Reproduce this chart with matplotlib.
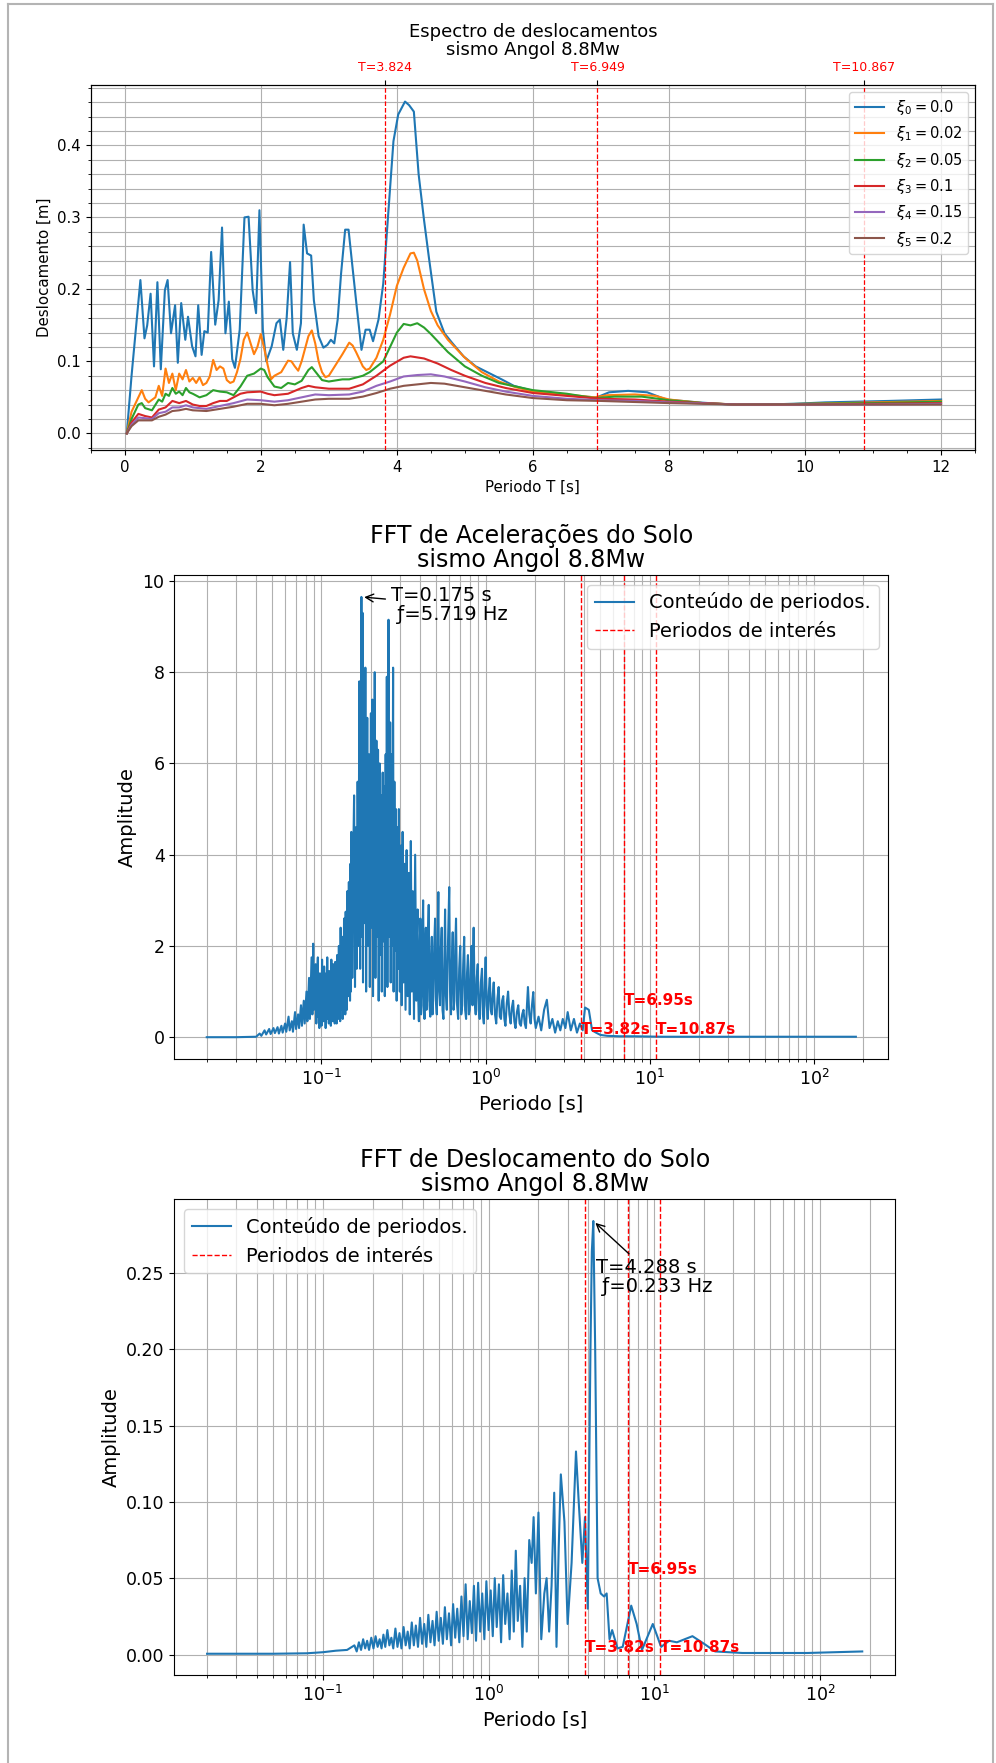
import matplotlib
matplotlib.use('Agg')
import matplotlib.pyplot as plt
from matplotlib.ticker import AutoMinorLocator
from matplotlib.lines import Line2D


"""1. Dados lidos do grafico"""

periodos_interes = [3.824, 6.949, 10.867]
amortecimentos = [0.0, 0.02, 0.05, 0.1, 0.15, 0.2]

# espectro de deslocamentos (T [s], Sd [m]) para cada amortecimento
xi0_pts = [(0.03, 0.0), (0.1, 0.08), (0.23, 0.213), (0.29, 0.132), (0.33, 0.15), (0.38, 0.194),
           (0.43, 0.093), (0.48, 0.21), (0.53, 0.089), (0.59, 0.199), (0.63, 0.213), (0.68, 0.139),
           (0.74, 0.178), (0.78, 0.098), (0.83, 0.181), (0.89, 0.13), (0.93, 0.162), (0.99, 0.121),
           (1.04, 0.107), (1.08, 0.178), (1.13, 0.109), (1.17, 0.142), (1.22, 0.14), (1.27, 0.252),
           (1.33, 0.151), (1.38, 0.185), (1.43, 0.286), (1.48, 0.139), (1.53, 0.183), (1.58, 0.103),
           (1.62, 0.091), (1.69, 0.144), (1.76, 0.30), (1.82, 0.301), (1.88, 0.199), (1.93, 0.167),
           (1.98, 0.31), (2.03, 0.144), (2.08, 0.1), (2.16, 0.121), (2.23, 0.153), (2.28, 0.158),
           (2.33, 0.116), (2.38, 0.16), (2.43, 0.238), (2.47, 0.139), (2.53, 0.116), (2.59, 0.153),
           (2.63, 0.29), (2.68, 0.25), (2.74, 0.247), (2.78, 0.185), (2.85, 0.135), (2.92, 0.119),
           (2.98, 0.123), (3.03, 0.13), (3.08, 0.125), (3.13, 0.158), (3.18, 0.222), (3.24, 0.283),
           (3.29, 0.283), (3.34, 0.238), (3.41, 0.176), (3.48, 0.116), (3.54, 0.144), (3.6, 0.144),
           (3.65, 0.128), (3.73, 0.158), (3.8, 0.208), (3.88, 0.314), (3.95, 0.406), (4.02, 0.443),
           (4.12, 0.461), (4.18, 0.456), (4.25, 0.447), (4.32, 0.36), (4.4, 0.296), (4.47, 0.245),
           (4.58, 0.169), (4.7, 0.139), (4.81, 0.126), (4.98, 0.107), (5.16, 0.093), (5.35, 0.084),
           (5.54, 0.075), (5.72, 0.066), (6.0, 0.059), (6.38, 0.054), (6.75, 0.051), (6.94, 0.05),
           (7.12, 0.057), (7.4, 0.059), (7.68, 0.057), (7.96, 0.047), (8.43, 0.043), (8.9, 0.04),
           (9.37, 0.04), (9.83, 0.041), (10.3, 0.043), (11.23, 0.045), (12.0, 0.047)]

xi1_pts = [(0.03, 0.0), (0.1, 0.03), (0.2, 0.05), (0.25, 0.06), (0.3, 0.048), (0.35, 0.043),
           (0.45, 0.05), (0.5, 0.066), (0.55, 0.052), (0.6, 0.09), (0.65, 0.07), (0.7, 0.083),
           (0.75, 0.06), (0.8, 0.083), (0.85, 0.075), (0.9, 0.088), (0.95, 0.072), (1.0, 0.077),
           (1.05, 0.07), (1.1, 0.078), (1.15, 0.067), (1.2, 0.07), (1.25, 0.079), (1.3, 0.102),
           (1.35, 0.088), (1.4, 0.093), (1.45, 0.09), (1.5, 0.074), (1.55, 0.07), (1.6, 0.072),
           (1.65, 0.085), (1.7, 0.103), (1.75, 0.13), (1.8, 0.14), (1.85, 0.125), (1.9, 0.11),
           (1.95, 0.12), (2.0, 0.138), (2.05, 0.118), (2.1, 0.095), (2.15, 0.075), (2.2, 0.08),
           (2.3, 0.085), (2.4, 0.101), (2.45, 0.1), (2.5, 0.093), (2.55, 0.087), (2.6, 0.1),
           (2.7, 0.135), (2.75, 0.143), (2.8, 0.125), (2.85, 0.1), (2.9, 0.085), (2.95, 0.078),
           (3.0, 0.08), (3.1, 0.095), (3.2, 0.11), (3.3, 0.126), (3.35, 0.122), (3.4, 0.113),
           (3.5, 0.093), (3.55, 0.088), (3.6, 0.09), (3.7, 0.105), (3.8, 0.13), (3.9, 0.165),
           (4.0, 0.205), (4.1, 0.23), (4.2, 0.25), (4.25, 0.251), (4.3, 0.24), (4.4, 0.2),
           (4.5, 0.17), (4.6, 0.15), (4.75, 0.13), (5.0, 0.105), (5.25, 0.085), (5.5, 0.072),
           (5.75, 0.064), (6.0, 0.058), (6.5, 0.054), (6.9, 0.05), (7.1, 0.053), (7.5, 0.054),
           (7.8, 0.052), (8.0, 0.047), (8.5, 0.042), (9.0, 0.04), (9.5, 0.04), (10.0, 0.041),
           (11.0, 0.043), (12.0, 0.045)]

xi2_pts = [(0.03, 0.0), (0.1, 0.02), (0.2, 0.04), (0.25, 0.042), (0.3, 0.035), (0.4, 0.032),
           (0.5, 0.047), (0.55, 0.044), (0.6, 0.055), (0.65, 0.052), (0.7, 0.063), (0.75, 0.055),
           (0.8, 0.058), (0.85, 0.053), (0.9, 0.063), (0.95, 0.057), (1.0, 0.055), (1.1, 0.05),
           (1.2, 0.053), (1.3, 0.06), (1.4, 0.058), (1.5, 0.057), (1.6, 0.053), (1.7, 0.065),
           (1.8, 0.08), (1.9, 0.083), (2.0, 0.09), (2.05, 0.088), (2.1, 0.078), (2.2, 0.065),
           (2.3, 0.063), (2.4, 0.07), (2.5, 0.068), (2.6, 0.073), (2.7, 0.088), (2.75, 0.092),
           (2.8, 0.086), (2.9, 0.074), (3.0, 0.072), (3.2, 0.075), (3.3, 0.075), (3.5, 0.08),
           (3.6, 0.085), (3.8, 0.1), (3.9, 0.12), (4.0, 0.14), (4.1, 0.152), (4.2, 0.15),
           (4.3, 0.153), (4.4, 0.147), (4.5, 0.138), (4.6, 0.128), (4.75, 0.113), (5.0, 0.093),
           (5.25, 0.08), (5.5, 0.07), (6.0, 0.06), (6.5, 0.055), (6.9, 0.049), (7.2, 0.051),
           (7.6, 0.051), (8.0, 0.046), (8.5, 0.042), (9.0, 0.04), (10.0, 0.041), (11.0, 0.042),
           (12.0, 0.044)]

xi3_pts = [(0.03, 0.0), (0.1, 0.015), (0.2, 0.027), (0.3, 0.024), (0.4, 0.022), (0.5, 0.033),
           (0.6, 0.036), (0.7, 0.045), (0.8, 0.042), (0.9, 0.045), (1.0, 0.04), (1.1, 0.038),
           (1.2, 0.038), (1.3, 0.042), (1.4, 0.045), (1.5, 0.045), (1.6, 0.05), (1.7, 0.055),
           (1.8, 0.057), (2.0, 0.058), (2.1, 0.055), (2.2, 0.053), (2.4, 0.055), (2.6, 0.063),
           (2.7, 0.066), (2.8, 0.064), (3.0, 0.062), (3.3, 0.062), (3.5, 0.068), (3.7, 0.08),
           (3.9, 0.094), (4.1, 0.105), (4.2, 0.107), (4.4, 0.104), (4.6, 0.097), (4.8, 0.088),
           (5.0, 0.08), (5.3, 0.07), (5.6, 0.063), (6.0, 0.056), (6.5, 0.052), (7.0, 0.048),
           (7.5, 0.047), (8.0, 0.044), (8.5, 0.042), (9.0, 0.04), (10.0, 0.04), (11.0, 0.041),
           (12.0, 0.042)]

xi4_pts = [(0.03, 0.0), (0.1, 0.012), (0.2, 0.022), (0.3, 0.021), (0.4, 0.02), (0.5, 0.028),
           (0.6, 0.03), (0.7, 0.036), (0.8, 0.036), (0.9, 0.039), (1.0, 0.036), (1.2, 0.034),
           (1.4, 0.038), (1.6, 0.042), (1.8, 0.047), (2.0, 0.046), (2.2, 0.044), (2.4, 0.046),
           (2.6, 0.05), (2.8, 0.054), (3.0, 0.053), (3.3, 0.054), (3.5, 0.058), (3.7, 0.066),
           (3.9, 0.072), (4.1, 0.079), (4.3, 0.081), (4.5, 0.082), (4.7, 0.079), (5.0, 0.072),
           (5.3, 0.064), (5.6, 0.058), (6.0, 0.052), (6.5, 0.048), (7.0, 0.046), (7.5, 0.045),
           (8.0, 0.043), (9.0, 0.04), (10.0, 0.04), (11.0, 0.04), (12.0, 0.041)]

xi5_pts = [(0.03, 0.0), (0.1, 0.01), (0.2, 0.018), (0.3, 0.018), (0.4, 0.018), (0.5, 0.023),
           (0.6, 0.026), (0.7, 0.031), (0.8, 0.032), (0.9, 0.034), (1.0, 0.032), (1.2, 0.031),
           (1.4, 0.034), (1.6, 0.037), (1.8, 0.041), (2.0, 0.041), (2.2, 0.039), (2.4, 0.041),
           (2.6, 0.044), (2.8, 0.047), (3.0, 0.048), (3.3, 0.048), (3.5, 0.051), (3.7, 0.056),
           (3.9, 0.062), (4.1, 0.066), (4.3, 0.068), (4.5, 0.07), (4.7, 0.069), (5.0, 0.064),
           (5.3, 0.059), (5.6, 0.054), (6.0, 0.049), (6.5, 0.046), (7.0, 0.045), (8.0, 0.042),
           (9.0, 0.04), (10.0, 0.04), (12.0, 0.04)]

espectro = [xi0_pts, xi1_pts, xi2_pts, xi3_pts, xi4_pts, xi5_pts]

# FFT da aceleracao do solo (T [s], amplitude)
fft_acel = [(0.020, 0.00), (0.030, 0.00), (0.040, 0.01), (0.042, 0.08), (0.043, 0.03), (0.045, 0.15),
            (0.046, 0.06), (0.048, 0.18), (0.049, 0.07), (0.051, 0.20), (0.052, 0.09), (0.054, 0.22),
            (0.055, 0.08), (0.057, 0.25), (0.058, 0.10), (0.060, 0.30), (0.061, 0.12), (0.063, 0.45),
            (0.064, 0.15), (0.066, 0.35), (0.067, 0.12), (0.069, 0.55), (0.070, 0.18), (0.072, 0.50),
            (0.073, 0.20), (0.075, 0.70), (0.076, 0.25), (0.078, 0.80), (0.079, 0.30), (0.081, 1.00),
            (0.082, 0.35), (0.084, 1.30), (0.085, 0.40), (0.087, 1.75), (0.088, 0.50), (0.089, 2.05),
            (0.090, 0.60), (0.092, 1.60),
            (0.0930, 0.30), (0.0940, 1.20), (0.0950, 1.75), (0.0955, 0.45), (0.0962, 1.10), (0.0970, 0.20),
            (0.0978, 1.40), (0.0985, 0.60), (0.0992, 1.30), (0.1000, 0.25), (0.1008, 1.70), (0.1015, 0.50),
            (0.1022, 1.20), (0.1030, 0.35), (0.1038, 1.55), (0.1045, 0.70), (0.1052, 1.00), (0.1060, 0.20),
            (0.1068, 1.40), (0.1076, 0.55), (0.1084, 1.75), (0.1092, 0.40), (0.1100, 1.25), (0.1108, 0.30),
            (0.1116, 1.45), (0.1124, 0.65), (0.1132, 1.10), (0.1140, 0.25), (0.1148, 1.70), (0.1156, 0.50),
            (0.1164, 1.30), (0.1172, 0.35), (0.1180, 1.60), (0.1188, 0.60), (0.1196, 1.20), (0.1204, 0.30),
            (0.1212, 1.65), (0.1220, 0.45), (0.1228, 1.35), (0.1236, 0.30), (0.1244, 1.80), (0.1252, 0.70),
            (0.1260, 1.40), (0.1268, 0.40), (0.1276, 2.00), (0.1284, 0.55), (0.1292, 1.50), (0.1300, 0.35),
            (0.1308, 2.40), (0.1316, 0.80), (0.1324, 1.70), (0.1332, 0.60), (0.1340, 2.20), (0.1348, 0.40),
            (0.1356, 1.90), (0.1364, 0.90), (0.1372, 2.60), (0.1380, 0.70), (0.1388, 2.00), (0.1396, 0.50),
            (0.1404, 2.75), (0.1412, 1.00), (0.1420, 2.30), (0.1428, 0.60), (0.1436, 3.20), (0.1444, 1.20),
            (0.1452, 2.50), (0.1460, 0.90), (0.1468, 3.40), (0.1476, 1.10), (0.1484, 2.90), (0.1492, 0.80),
            (0.1500, 3.80), (0.1510, 1.00),
            (0.152, 4.50), (0.154, 1.30), (0.156, 3.90),
            (0.158, 5.30), (0.160, 1.10), (0.162, 4.60), (0.164, 1.50), (0.166, 5.60), (0.168, 2.00),
            (0.170, 7.80), (0.172, 1.50), (0.175, 9.65), (0.176, 2.20), (0.178, 9.30), (0.179, 1.20),
            (0.181, 7.00), (0.183, 2.50), (0.185, 8.10), (0.187, 1.00), (0.190, 7.00), (0.192, 2.00),
            (0.195, 6.20), (0.197, 1.10), (0.200, 7.10), (0.202, 2.40), (0.204, 7.40), (0.206, 0.90),
            (0.208, 6.60), (0.209, 2.00), (0.211, 8.00), (0.213, 1.30), (0.216, 6.50), (0.218, 2.20),
            (0.221, 6.30), (0.223, 0.80), (0.226, 6.00), (0.228, 1.80), (0.231, 5.30), (0.233, 1.00),
            (0.236, 5.80), (0.238, 2.10), (0.241, 5.50), (0.243, 0.90), (0.246, 6.20), (0.248, 1.70),
            (0.250, 7.90), (0.252, 1.10), (0.256, 9.15), (0.258, 2.20), (0.262, 6.90), (0.264, 1.20),
            (0.268, 6.20), (0.270, 2.00), (0.273, 8.10), (0.275, 1.00), (0.278, 5.60), (0.281, 1.90),
            (0.284, 5.00), (0.287, 0.80), (0.290, 4.60), (0.293, 1.50), (0.296, 5.00), (0.300, 1.00),
            (0.304, 4.20), (0.308, 0.70), (0.312, 4.50), (0.316, 1.20), (0.320, 3.80), (0.325, 0.60),
            (0.330, 4.10), (0.335, 0.90), (0.340, 3.60), (0.345, 0.50), (0.350, 4.30), (0.355, 1.00),
            (0.360, 3.20), (0.366, 0.40), (0.372, 4.00), (0.378, 0.80),
            (0.381, 2.20), (0.385, 2.80), (0.388, 0.90), (0.392, 0.35), (0.396, 1.80), (0.400, 2.60),
            (0.404, 0.50), (0.408, 0.70), (0.412, 2.10), (0.416, 3.00), (0.420, 1.00), (0.424, 0.40),
            (0.428, 1.90), (0.432, 2.40), (0.436, 0.60), (0.440, 0.80), (0.445, 2.20), (0.450, 2.90),
            (0.455, 0.70), (0.460, 0.45), (0.465, 1.70), (0.470, 2.20), (0.475, 0.50), (0.480, 0.90),
            (0.486, 2.00), (0.492, 2.60), (0.498, 0.80), (0.504, 0.50), (0.510, 2.20), (0.515, 3.18),
            (0.521, 1.00), (0.527, 0.70), (0.533, 1.90), (0.540, 2.40), (0.546, 0.60), (0.553, 0.40),
            (0.560, 1.60), (0.566, 2.80), (0.573, 0.90), (0.580, 0.60), (0.590, 2.10), (0.600, 3.29),
            (0.607, 1.00), (0.615, 0.50), (0.622, 1.60), (0.630, 2.30), (0.638, 0.60), (0.645, 0.80),
            (0.652, 1.90), (0.660, 2.60), (0.670, 0.70), (0.680, 0.40), (0.690, 1.50), (0.700, 2.00),
            (0.710, 0.50), (0.720, 0.70), (0.730, 1.60), (0.740, 2.20), (0.750, 0.60), (0.760, 0.40),
            (0.770, 1.40), (0.780, 1.80), (0.790, 0.50), (0.800, 0.60), (0.810, 1.50), (0.820, 2.00),
            (0.826, 0.90), (0.832, 0.70), (0.838, 1.80), (0.845, 2.40), (0.857, 0.80), (0.870, 0.50),
            (0.882, 1.30), (0.895, 1.60), (0.907, 0.60), (0.920, 0.40), (0.935, 1.20), (0.950, 1.50),
            (0.962, 0.50), (0.975, 0.30), (0.988, 1.20), (1.000, 1.75),
            (1.015, 0.70), (1.030, 0.40), (1.045, 1.00), (1.060, 1.30), (1.075, 0.60), (1.090, 0.50),
            (1.105, 0.95), (1.120, 1.20), (1.140, 0.50), (1.160, 0.30), (1.180, 0.85), (1.200, 1.10),
            (1.220, 0.45), (1.240, 0.40), (1.260, 0.80), (1.280, 0.90), (1.300, 0.40), (1.320, 0.25),
            (1.345, 0.75), (1.370, 1.00), (1.395, 0.50), (1.420, 0.30), (1.445, 0.65), (1.470, 0.80),
            (1.495, 0.35), (1.520, 0.20), (1.550, 0.55), (1.580, 0.70), (1.610, 0.30), (1.640, 0.25),
            (1.670, 0.50), (1.700, 0.60), (1.730, 0.30), (1.760, 0.20), (1.785, 0.70), (1.810, 1.10),
            (1.845, 0.50), (1.880, 0.30), (1.915, 0.70), (1.950, 0.99), (1.985, 0.40), (2.020, 0.20),
            (2.100, 0.45), (2.180, 0.15), (2.270, 0.60), (2.360, 0.82), (2.450, 0.20), (2.550, 0.40),
            (2.650, 0.10), (2.750, 0.35), (2.850, 0.15), (2.950, 0.40), (3.060, 0.20), (3.160, 0.55),
            (3.300, 0.15), (3.450, 0.40), (3.600, 0.10), (3.750, 0.30), (3.900, 0.15), (4.030, 0.65),
            (4.250, 0.60), (4.450, 0.15), (4.700, 0.10), (5.000, 0.05), (5.500, 0.03), (6.500, 0.02),
            (8.000, 0.02), (12.00, 0.01), (30.00, 0.01), (100.0, 0.01), (180.0, 0.01)]

# FFT do deslocamento do solo (T [s], amplitude)
fft_desl = [(0.02, 0.0005), (0.05, 0.0005), (0.08, 0.0008), (0.10, 0.0015), (0.12, 0.0025), (0.14, 0.003),
            (0.155, 0.006), (0.16, 0.002), (0.165, 0.008), (0.17, 0.003), (0.175, 0.010), (0.18, 0.004),
            (0.185, 0.009), (0.19, 0.003), (0.196, 0.011), (0.202, 0.004), (0.208, 0.012), (0.214, 0.005),
            (0.22, 0.010), (0.226, 0.004), (0.232, 0.013), (0.238, 0.005), (0.245, 0.016), (0.252, 0.006),
            (0.259, 0.011), (0.266, 0.004), (0.274, 0.017), (0.282, 0.005), (0.29, 0.014), (0.298, 0.004),
            (0.307, 0.018), (0.316, 0.006), (0.325, 0.015), (0.334, 0.004), (0.344, 0.021), (0.354, 0.006),
            (0.364, 0.019), (0.375, 0.005), (0.386, 0.024), (0.397, 0.007), (0.409, 0.020), (0.421, 0.005),
            (0.433, 0.026), (0.446, 0.008), (0.459, 0.022), (0.472, 0.006), (0.486, 0.028), (0.5, 0.009),
            (0.515, 0.024), (0.53, 0.007), (0.545, 0.031), (0.56, 0.010), (0.577, 0.027), (0.594, 0.006),
            (0.611, 0.033), (0.629, 0.011), (0.647, 0.030), (0.666, 0.008), (0.686, 0.038), (0.706, 0.012),
            (0.727, 0.046), (0.748, 0.010), (0.77, 0.035), (0.793, 0.014), (0.816, 0.045), (0.84, 0.009),
            (0.865, 0.047), (0.89, 0.015), (0.916, 0.040), (0.943, 0.010), (0.97, 0.048), (1.0, 0.016),
            (1.03, 0.042), (1.06, 0.012), (1.09, 0.050), (1.12, 0.018), (1.155, 0.046), (1.19, 0.008),
            (1.225, 0.052), (1.26, 0.020), (1.30, 0.040), (1.34, 0.010), (1.38, 0.055), (1.42, 0.015),
            (1.46, 0.068), (1.50, 0.022), (1.55, 0.045), (1.60, 0.005), (1.65, 0.050), (1.70, 0.015),
            (1.76, 0.075), (1.82, 0.060), (1.87, 0.090), (1.93, 0.040), (2.00, 0.093), (2.08, 0.010),
            (2.17, 0.040), (2.24, 0.050), (2.32, 0.015), (2.40, 0.045), (2.49, 0.106), (2.57, 0.005),
            (2.65, 0.070), (2.73, 0.118), (2.87, 0.087), (3.00, 0.020), (3.17, 0.060), (3.37, 0.133),
            (3.50, 0.100), (3.68, 0.060), (3.82, 0.090), (3.97, 0.030), (4.12, 0.200), (4.20, 0.264),
            (4.288, 0.284), (4.40, 0.200), (4.55, 0.050), (4.75, 0.040), (4.98, 0.038), (5.16, 0.040),
            (5.37, 0.010), (5.57, 0.016), (6.0, 0.004), (6.45, 0.005), (7.26, 0.032), (7.83, 0.020),
            (8.43, 0.003), (9.8, 0.020), (11.0, 0.005), (12.3, 0.009), (13.7, 0.008), (17.0, 0.012),
            (20.0, 0.007), (23.3, 0.002), (34.0, 0.001), (84.0, 0.001), (180.0, 0.002)]

pico_acel = (0.175, 9.65)
pico_desl = (4.288, 0.284)


"""2. Figura"""

fig = plt.figure(figsize=(9.96, 17.63), dpi=100)

# moldura cinzenta da celula
for xs, ys in [([7.5 / 996, 7.5 / 996], [0, 1 - 4 / 1763]),
               ([7.5 / 996, 992.5 / 996], [1 - 4 / 1763, 1 - 4 / 1763]),
               ([992.5 / 996, 992.5 / 996], [0, 1 - 4 / 1763])]:
    fig.add_artist(Line2D(xs, ys, transform=fig.transFigure, color='#b4b4b4', lw=1.5))


""" 3. Espectro de deslocamentos """

ax1 = fig.add_axes([0.0911, 0.7448, 0.8879, 0.2070])
for i, (xi, pts) in enumerate(zip(amortecimentos, espectro)):
    T, D = zip(*pts)
    ax1.plot(T, D, label=r'$\xi_{%d} = %s$' % (i, xi))
for p in periodos_interes:
    ax1.axvline(p, color='red', ls='--', lw=0.9)
ax1.set_xlim(-0.5, 12.5)
ax1.xaxis.set_minor_locator(AutoMinorLocator())
ax1.yaxis.set_minor_locator(AutoMinorLocator(5))
ax1.grid(True, which='both', axis='y')
ax1.grid(True, which='major', axis='x')
ax1.tick_params(labelsize=10.8)
ax1.set_xlabel('Periodo T [s]', fontsize=10.8)
ax1.set_ylabel('Deslocamento [m]', fontsize=10.8)
ax1.legend(loc='upper right', fontsize=10.5)

ax1t = ax1.twiny()
ax1t.set_xlim(ax1.get_xlim())
ax1t.set_xticks(periodos_interes)
ax1t.set_xticklabels(['T=%.3f' % p for p in periodos_interes], color='red', fontsize=9)
ax1t.tick_params(axis='x', pad=4.5)
ax1.set_title('Espectro de deslocamentos\nsismo Angol 8.8Mw', fontsize=13, linespacing=1.0, pad=4)


""" 4. FFT de aceleracoes e deslocamentos """

def painel_fft(ax, pts, pico, titulo, txt_pico, xytext, alt_695, loc):
    T, A = zip(*pts)
    ax.semilogx(T, A, label='Conteúdo de periodos.')
    for k, p in enumerate(periodos_interes):
        ax.axvline(p, color='red', ls='--', lw=1,
                   label='Periodos de interés' if k == 0 else None)
    for p, y in zip(periodos_interes, [0, alt_695, 0]):
        ax.text(p, y, 'T=%.2fs' % p, color='red', fontweight='bold', fontsize=11,
                ha='left', va='bottom')
    ax.annotate(txt_pico, xy=pico, xytext=xytext, fontsize=14, ha='left', va='center',
                linespacing=1.0, arrowprops=dict(arrowstyle='->', color='black'))
    ax.grid(True, which='both')
    ax.tick_params(labelsize=12.5)
    ax.set_xlabel('Periodo [s]', fontsize=14)
    ax.set_ylabel('Amplitude', fontsize=14)
    ax.set_title(titulo, fontsize=17, linespacing=1.0)
    ax.legend(loc=loc, fontsize=14)


ax2 = fig.add_axes([0.1750, 0.3992, 0.7169, 0.2747])
painel_fft(ax2, fft_acel, pico_acel, 'FFT de Acelerações do Solo\nsismo Angol 8.8Mw',
           'T=0.175 s\n ƒ=5.719 Hz', (0.265, 9.48), 0.64, 'upper right')

ax3 = fig.add_axes([0.1750, 0.0497, 0.7236, 0.2700])
painel_fft(ax3, fft_desl, pico_desl, 'FFT de Deslocamento do Solo\nsismo Angol 8.8Mw',
           'T=4.288 s\n ƒ=0.233 Hz', (4.48, 0.247), 0.051, 'upper left')

plt.savefig('out.png', dpi=100)
plt.close()
